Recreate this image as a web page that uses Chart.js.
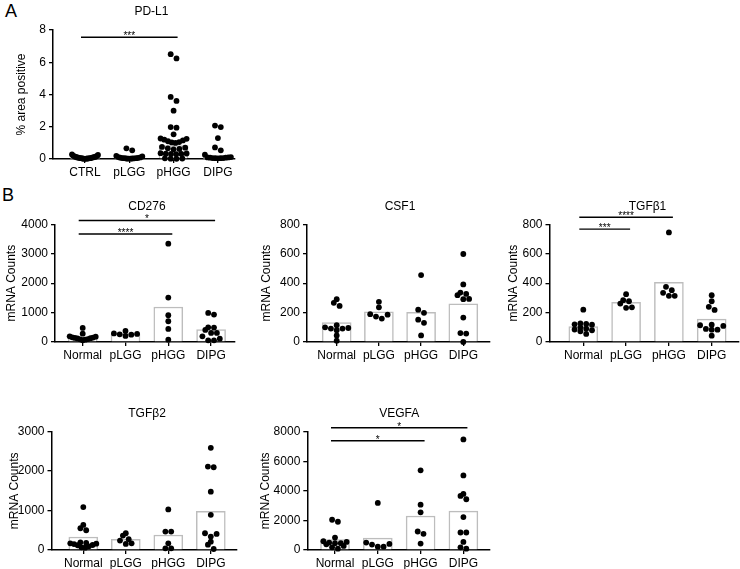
<!DOCTYPE html>
<html>
<head>
<meta charset="utf-8">
<script src="https://cdn.jsdelivr.net/npm/chart.js@4.4.1/dist/chart.umd.min.js"></script>
<style>
  html, body { margin: 0; padding: 0; background: #fff; overflow: hidden; }
  #wrap { position: relative; width: 740px; height: 569px; font-family: "Liberation Sans", Arial, sans-serif; }
  #wrap canvas { position: absolute; }
  .letter { position: absolute; font-size: 18px; line-height: 18px; color: #000; }
</style>
</head>
<body>
<div id="wrap">
  <div class="letter" style="left:5px;top:2px">A</div>
  <div class="letter" style="left:2px;top:186px">B</div>
</div>
<script>
// ---------- categories ----------
const groupsA = ['CTRL', 'pLGG', 'pHGG', 'DIPG'];
const groupsB = ['Normal', 'pLGG', 'pHGG', 'DIPG'];

// ---------- PD-L1 (% area positive) ----------
const pdl1Ticks = [0, 2, 4, 6, 8];
const pdl1Ctrl = [0.28, 0.25, 0.2, 0.17, 0.14, 0.12, 0.1, 0.08, 0.06, 0.05, 0.04, 0.03, 0.02, 0.01, 0.02, 0.03, 0.05, 0.07, 0.1, 0.13, 0.16];
const pdl1Plgg = [0.66, 0.54, 0.2, 0.16, 0.12, 0.1, 0.08, 0.06, 0.05, 0.04, 0.03, 0.02, 0.02, 0.03, 0.05, 0.07];
const pdl1Phgg = [6.5, 6.24, 3.85, 3.6, 3.0, 1.98, 1.94, 1.53, 1.27, 1.25, 1.2, 1.15, 1.1, 1.05, 1.03, 1.0,
                  0.75, 0.7, 0.66, 0.62, 0.6, 0.36, 0.34, 0.33, 0.32, 0.31, 0.3, 0.04, 0.03, 0.02, 0.01];
const pdl1Dipg = [2.07, 1.98, 1.3, 0.72, 0.54, 0.27, 0.12, 0.1, 0.08, 0.06, 0.05, 0.04, 0.05, 0.06, 0.08, 0.1];
const pdl1Means = [0.08, 0.1, 0.83, 0.12];
const pdl1Sig = [[0, 2, 7.55, '***']];

// ---------- CD276 ----------
const cd276Ticks = [0, 1000, 2000, 3000, 4000];
const cd276Normal = [477, 284, 193, 180, 160, 150, 140, 130, 120, 100, 90, 80, 60];
const cd276Plgg = [375, 290, 262, 250, 273, 205];
const cd276Phgg = [3340, 1511, 909, 705, 443, 80];
const cd276Dipg = [989, 932, 500, 489, 409, 307, 307, 193, 114, 57, 57];
const cd276Means = [165, 280, 1190, 420];
const cd276Sig = [[0, 3, 4130, '*'], [0, 2, 3670, '****']];

// ---------- CSF1 ----------
const csf1Ticks = [0, 200, 400, 600, 800];
const csf1Normal = [291, 266, 245, 114, 100, 95, 91, 91, 80, 45, 9];
const csf1Plgg = [273, 236, 189, 186, 173, 159];
const csf1Phgg = [455, 220, 198, 152, 130, 45];
const csf1Dipg = [598, 391, 336, 327, 318, 293, 291, 166, 61, 57, 0];
const csf1Means = [132, 205, 202, 260];

// ---------- TGFβ1 ----------
const tgfb1Ticks = [0, 200, 400, 600, 800];
const tgfb1Normal = [220, 127, 123, 120, 118, 100, 90, 85, 80, 73, 55];
const tgfb1Plgg = [325, 284, 277, 261, 236, 232];
const tgfb1Phgg = [745, 375, 352, 334, 314, 314];
const tgfb1Dipg = [318, 277, 239, 218, 118, 114, 109, 89, 84, 84, 43];
const tgfb1Means = [105, 270, 405, 155];
const tgfb1Sig = [[0, 2, 848, '****'], [0, 1, 767, '***']];

// ---------- TGFβ2 ----------
const tgfb2Ticks = [0, 1000, 2000, 3000];
const tgfb2Normal = [1088, 637, 552, 501, 195, 178, 170, 160, 150, 127, 120, 93, 68, 60];
const tgfb2Plgg = [425, 365, 272, 238, 170, 153];
const tgfb2Phgg = [1028, 467, 467, 170, 42, 42];
const tgfb2Dipg = [2591, 2116, 2099, 1478, 892, 425, 408, 340, 212, 136, 25];
const tgfb2Means = [330, 270, 380, 980];

// ---------- VEGFA ----------
const vegfaTicks = [0, 2000, 4000, 6000, 8000];
const vegfaNormal = [2045, 1909, 841, 591, 545, 500, 455, 455, 386, 273, 182, 91];
const vegfaPlgg = [3182, 500, 409, 364, 227, 227];
const vegfaPhgg = [5386, 3068, 2545, 1250, 1091, 432];
const vegfaDipg = [7477, 5045, 3795, 3659, 3432, 2227, 1182, 1182, 545, 182, 91];
const vegfaMeans = [700, 800, 2300, 2630];
const vegfaSig = [[0, 3, 8270, '*'], [0, 2, 7390, '*']];

// ---------- look ----------
const FONT = '"Liberation Sans", Arial, Helvetica, sans-serif';
const FS = 12;
const PAD_TOP = 28, PAD_RIGHT = 8, X_H = 22;
const DOT_R = 2.9, DOT_GAP = 5.8, ROW_H = 4.5, MAX_HALF = 13;

// panel placement in the page (pixels): y-axis x, plot top/bottom, x-axis end,
// first category x, category step, gap from axis to y-title centre
const panels = [
  { title: 'PD-L1', yTitle: '% area positive', cats: groupsA, ticks: pdl1Ticks,
    groups: [pdl1Ctrl, pdl1Plgg, pdl1Phgg, pdl1Dipg], means: pdl1Means, sig: pdl1Sig,
    geom: { axisX: 53, top: 30, bottom: 159, right: 235, x0: 85, step: 44.3, gap: 31 } },
  { title: 'CD276', yTitle: 'mRNA Counts', cats: groupsB, ticks: cd276Ticks,
    groups: [cd276Normal, cd276Plgg, cd276Phgg, cd276Dipg], means: cd276Means, sig: cd276Sig,
    geom: { axisX: 55, top: 224.3, bottom: 341.7, right: 235, x0: 82.7, step: 42.8, gap: 43 } },
  { title: 'CSF1', yTitle: 'mRNA Counts', cats: groupsB, ticks: csf1Ticks,
    groups: [csf1Normal, csf1Plgg, csf1Phgg, csf1Dipg], means: csf1Means, sig: [],
    geom: { axisX: 307, top: 224.3, bottom: 341.7, right: 490, x0: 336.7, step: 42.2, gap: 40 } },
  { title: 'TGFβ1', yTitle: 'mRNA Counts', cats: groupsB, ticks: tgfb1Ticks,
    groups: [tgfb1Normal, tgfb1Plgg, tgfb1Phgg, tgfb1Dipg], means: tgfb1Means, sig: tgfb1Sig,
    geom: { axisX: 549.5, top: 224.3, bottom: 341.7, right: 739, x0: 583.3, step: 42.8, gap: 36 } },
  { title: 'TGFβ2', yTitle: 'mRNA Counts', cats: groupsB, ticks: tgfb2Ticks,
    groups: [tgfb2Normal, tgfb2Plgg, tgfb2Phgg, tgfb2Dipg], means: tgfb2Means, sig: [],
    geom: { axisX: 51.5, top: 431.7, bottom: 549.3, right: 237, x0: 83.3, step: 42.5, gap: 37 } },
  { title: 'VEGFA', yTitle: 'mRNA Counts', cats: groupsB, ticks: vegfaTicks,
    groups: [vegfaNormal, vegfaPlgg, vegfaPhgg, vegfaDipg], means: vegfaMeans, sig: vegfaSig,
    geom: { axisX: 307.3, top: 431.7, bottom: 549.3, right: 490, x0: 335, step: 42.8, gap: 42 } }
];

// significance bars + panel title, drawn with the chart's scales
const sigPlugin = {
  id: 'sigbars',
  afterDatasetsDraw(chart, args, opts) {
    const { ctx, chartArea, scales: { x, y } } = chart;
    ctx.save();
    ctx.strokeStyle = '#000';
    ctx.fillStyle = '#000';
    ctx.lineWidth = 1.4;
    (opts.bars || []).forEach(b => {
      const x1 = x.getPixelForValue(b[0]) - 4;
      const x2 = x.getPixelForValue(b[1]) + 4;
      const yy = y.getPixelForValue(b[2]);
      ctx.beginPath(); ctx.moveTo(x1, yy); ctx.lineTo(x2, yy); ctx.stroke();
      ctx.font = '10px ' + FONT;
      ctx.textAlign = 'center';
      ctx.textBaseline = 'alphabetic';
      ctx.fillText(b[3], (x1 + x2) / 2, yy + 2);
    });
    if (opts.title) {
      const cx = (x.getPixelForValue(0) + x.getPixelForValue(opts.n - 1)) / 2;
      ctx.font = FS + 'px ' + FONT;
      ctx.textAlign = 'center';
      ctx.textBaseline = 'middle';
      ctx.fillText(opts.title, cx, chartArea.top - 18);
    }
    ctx.restore();
  }
};

// GraphPad-like scatter: rows of close values spread side by side, smallest in the middle
function swarm(chart, groups) {
  const xs = chart.scales.x, ys = chart.scales.y;
  const pxX = xs.getPixelForValue(1) - xs.getPixelForValue(0);
  const out = [];
  groups.forEach((vals, gi) => {
    const pts = vals.map(v => ({ v, py: ys.getPixelForValue(v) })).sort((a, b) => a.v - b.v);
    const rows = [];
    let cur = null;
    pts.forEach(p => {
      if (!cur || cur[0].py - p.py > ROW_H) { cur = [p]; rows.push(cur); }
      else cur.push(p);
    });
    rows.forEach(r => {
      const n = r.length;
      const s = n > 1 ? Math.min(DOT_GAP, 2 * MAX_HALF / (n - 1)) : 0;
      const slots = r.map((_, k) => (k - (n - 1) / 2) * s)
        .sort((a, b) => Math.abs(a) - Math.abs(b) || b - a);
      r.forEach((p, k) => out.push({ x: gi + slots[k] / pxX, y: p.v }));
    });
  });
  return out;
}

function makePanel(p) {
  const g = p.geom;
  const lh = FS * 1.2;
  const left = Math.floor(g.axisX - (g.gap + lh / 2));
  const yW = g.axisX - left;
  const top = Math.floor(g.top - PAD_TOP);
  const padTop = g.top - top;
  const w = Math.ceil(yW + (g.right - g.axisX) + PAD_RIGHT);
  const h = Math.ceil(padTop + (g.bottom - g.top) + X_H);

  const cv = document.createElement('canvas');
  cv.width = w; cv.height = h;
  cv.style.left = left + 'px'; cv.style.top = top + 'px';
  cv.style.width = w + 'px'; cv.style.height = h + 'px';
  document.getElementById('wrap').appendChild(cv);

  const startPts = [];
  p.groups.forEach((vals, gi) => vals.forEach(v => startPts.push({ x: gi, y: v })));

  const tickFont = { family: FONT, size: FS };
  const chart = new Chart(cv.getContext('2d'), {
    type: 'bar',
    data: {
      datasets: [
        { type: 'scatter', data: startPts, order: 1, clip: false,
          pointRadius: DOT_R, pointHoverRadius: DOT_R, pointBackgroundColor: '#000',
          pointBorderColor: '#000', pointBorderWidth: 0 },
        { type: 'bar', data: p.means.map((m, i) => ({ x: i, y: m })), order: 2,
          backgroundColor: '#fff', borderColor: '#bdbdbd', borderWidth: 1.5,
          barThickness: 29, grouped: false }
      ]
    },
    options: {
      responsive: false, animation: false, events: [],
      layout: { padding: { top: padTop, right: PAD_RIGHT, left: 0, bottom: 0 } },
      plugins: {
        legend: { display: false }, tooltip: { enabled: false },
        sigbars: { bars: p.sig, title: p.title, n: p.cats.length }
      },
      scales: {
        x: {
          type: 'linear', offset: false,
          min: (g.axisX - g.x0) / g.step, max: (g.right - g.x0) / g.step,
          afterBuildTicks: s => { s.ticks = p.cats.map((c, i) => ({ value: i })); },
          afterFit: s => { s.height = X_H; },
          ticks: { callback: v => p.cats[v], color: '#000', font: tickFont, maxRotation: 0, padding: 2, autoSkip: false },
          grid: { display: true, offset: false, drawOnChartArea: false, drawTicks: true, tickLength: 4, color: '#000', lineWidth: 1.3 },
          border: { display: true, color: '#000', width: 1.5 }
        },
        y: {
          min: 0, max: p.ticks[p.ticks.length - 1],
          afterBuildTicks: s => { s.ticks = p.ticks.map(v => ({ value: v })); },
          afterFit: s => { s.width = yW; },
          ticks: { callback: v => String(v), color: '#000', font: tickFont, padding: 3 },
          grid: { display: true, drawOnChartArea: false, drawTicks: true, tickLength: 4, color: '#000', lineWidth: 1.3 },
          border: { display: true, color: '#000', width: 1.5 },
          title: { display: true, text: p.yTitle, color: '#000', font: { family: FONT, size: FS, lineHeight: 1.2 }, padding: { top: 0, bottom: 0 } }
        }
      }
    },
    plugins: [sigPlugin]
  });

  chart.data.datasets[0].data = swarm(chart, p.groups);
  chart.update('none');
}

panels.forEach(makePanel);
</script>
</body>
</html>
